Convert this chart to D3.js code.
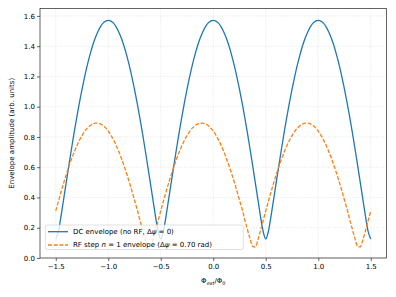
<!DOCTYPE html>
<html lang="en">
<head>
<meta charset="UTF-8">
<title>Envelope amplitude</title>
<script src="https://cdn.jsdelivr.net/npm/d3@7"></script>
<style>
    body { margin: 0; background: #fff; }
    text { font-family: "DejaVu Sans", sans-serif; fill: #000; }
</style>
</head>
<body>
<div class="chart"></div>
<script>
    // flux sweep, step 0.025 from -1.5 to 1.5
    var phi = d3.range(-1.5, 1.5 + 1e-9, 0.025)

    // values
    var dcRise = [0.126,0.176,0.275,0.387,0.500,0.612,0.722,0.828,0.929,1.025,1.114,1.197,1.273,1.341,1.401,1.452,1.494,1.528,1.552,1.566,1.571]
    var dcFall = [1.566,1.552,1.528,1.494,1.452,1.401,1.341,1.273,1.197,1.114,1.025,0.929,0.828,0.722,0.612,0.500,0.387,0.275,0.176,0.126]
    var dcRise2 = [0.176,0.275,0.387,0.500,0.612,0.722,0.828,0.929,1.025,1.114,1.197,1.273,1.341,1.401,1.452,1.494,1.528,1.552,1.566,1.571]
    var dcEnvelope = [].concat(dcRise, dcFall, dcRise2, dcFall, dcRise2, dcFall)

    var rfPeriod = [0.311,0.374,0.436,0.495,0.551,0.604,0.654,0.699,0.740,0.777,0.809,0.836,0.858,0.874,0.885,0.891,0.891,0.886,0.876,0.860,
                    0.839,0.812,0.781,0.745,0.704,0.659,0.610,0.558,0.502,0.443,0.382,0.322,0.254,0.190,0.127,0.077,0.073,0.120,0.182,0.246]
    var rfEnvelope = [].concat(rfPeriod, rfPeriod, rfPeriod, [0.311])

    var xTicks = [-1.5, -1.0, -0.5, 0.0, 0.5, 1.0, 1.5]
    var yTicks = [0.0, 0.2, 0.4, 0.6, 0.8, 1.0, 1.2, 1.4, 1.6]

    var W = 396, H = 297
    var pL = 40, pR = 386.5, pT = 8.5, pB = 258
    var fs = 7

    var svg = d3.select('.chart').append('svg').attr('width', W).attr('height', H)
    svg.append('rect').attr('width', W).attr('height', H).attr('fill', '#fff')

    var x = d3.scaleLinear().domain([-1.65, 1.65]).range([pL, pR])
    var y = d3.scaleLinear().domain([0, 1.649]).range([pB, pT])

    // grid
    var grid = svg.append('g').attr('stroke', '#d9d9d9').attr('stroke-width', 0.6).attr('stroke-dasharray', '1,1.4')
    grid.selectAll('.gx').data(xTicks).join('line')
        .attr('x1', d => x(d)).attr('x2', d => x(d)).attr('y1', pT).attr('y2', pB)
    grid.selectAll('.gy').data(yTicks).join('line')
        .attr('x1', pL).attr('x2', pR).attr('y1', d => y(d)).attr('y2', d => y(d))

    // curves
    var line = d3.line().x((d, i) => x(phi[i])).y(d => y(d)).curve(d3.curveMonotoneX)
    svg.append('path').datum(dcEnvelope).attr('d', line)
        .attr('fill', 'none').attr('stroke', '#1f77b4').attr('stroke-width', 1.3)
    svg.append('path').datum(rfEnvelope).attr('d', line)
        .attr('fill', 'none').attr('stroke', '#ff7f0e').attr('stroke-width', 1.3).attr('stroke-dasharray', '4,1.7')

    // axes
    var fmt = d3.format('.1f')
    var xAxis = svg.append('g').attr('transform', 'translate(0,' + pB + ')')
        .call(d3.axisBottom(x).tickValues(xTicks).tickSize(3).tickSizeOuter(0).tickFormat(fmt))
    var yAxis = svg.append('g').attr('transform', 'translate(' + pL + ',0)')
        .call(d3.axisLeft(y).tickValues(yTicks).tickSize(3).tickSizeOuter(0).tickFormat(fmt))
    svg.selectAll('.domain').remove()
    svg.selectAll('.tick line').attr('stroke', '#000').attr('stroke-width', 0.6)
    svg.selectAll('.tick text').attr('font-size', fs).attr('font-family', '"DejaVu Sans", sans-serif').attr('fill', '#000')
    xAxis.selectAll('.tick text').attr('dy', '0.71em').attr('y', 6)
    yAxis.selectAll('.tick text').attr('x', -5)

    // frame
    svg.append('rect').attr('x', pL).attr('y', pT).attr('width', pR - pL).attr('height', pB - pT)
        .attr('fill', 'none').attr('stroke', '#222').attr('stroke-width', 0.7)

    // axis labels
    var xl = svg.append('text').attr('x', (pL + pR) / 2).attr('y', 283).attr('text-anchor', 'middle').attr('font-size', fs)
    xl.append('tspan').text('Φ')
    xl.append('tspan').text('ext').attr('font-size', fs * 0.7).attr('dy', 1.5)
    xl.append('tspan').text('/Φ').attr('dy', -1.5)
    xl.append('tspan').text('0').attr('font-size', fs * 0.7).attr('dy', 1.5)

    svg.append('text').attr('transform', 'translate(14,' + (pT + pB) / 2 + ') rotate(-90)')
        .attr('text-anchor', 'middle').attr('font-size', fs).text('Envelope amplitude (arb. units)')

    // legend
    var lg = svg.append('g')
    lg.append('rect').attr('x', 45.3).attr('y', 225).attr('width', 198).attr('height', 24.5).attr('rx', 2)
        .attr('fill', '#fff').attr('fill-opacity', 0.8).attr('stroke', '#ccc').attr('stroke-width', 0.6)
    var rows = [
        { color: '#1f77b4', dash: null, parts: [['DC envelope (no RF, Δ', 0], ['ψ', 1], [' = 0)', 0]] },
        { color: '#ff7f0e', dash: '4,1.7', parts: [['RF step ', 0], ['n', 1], [' = 1 envelope (Δ', 0], ['ψ', 1], [' = 0.70 rad)', 0]] }
    ]
    rows.forEach((r, i) => {
        var cy = 231.7 + i * 13.3
        lg.append('line').attr('x1', 48).attr('x2', 68).attr('y1', cy).attr('y2', cy)
            .attr('stroke', r.color).attr('stroke-width', 1.3).attr('stroke-dasharray', r.dash)
        var t = lg.append('text').attr('x', 73).attr('y', cy).attr('dy', '0.35em').attr('font-size', fs)
        r.parts.forEach(p => t.append('tspan').text(p[0]).attr('font-style', p[1] ? 'italic' : 'normal'))
    })
</script>
</body>
</html>
